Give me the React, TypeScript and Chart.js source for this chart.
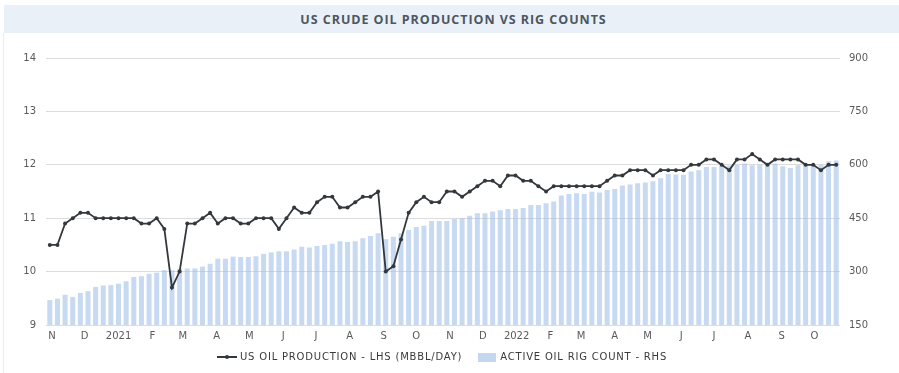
import React, { useEffect, useRef } from "react";
import { Chart, registerables } from "chart.js";

Chart.register(...registerables);

// ---- Data ----
const TITLE = "US CRUDE OIL PRODUCTION VS RIG COUNTS";
const LINE_LABEL = "US OIL PRODUCTION - LHS (MBBL/DAY)";
const BAR_LABEL = "ACTIVE OIL RIG COUNT - RHS";

// weekly observations, first week ending 2020-10-30
const FIRST_WEEK = "2020-10-30";

const production = [
  10.5, 10.5, 10.9, 11.0, 11.1, 11.1, 11.0, 11.0, 11.0, 11.0,
  11.0, 11.0, 10.9, 10.9, 11.0, 10.8, 9.7, 10.0, 10.9, 10.9,
  11.0, 11.1, 10.9, 11.0, 11.0, 10.9, 10.9, 11.0, 11.0, 11.0,
  10.8, 11.0, 11.2, 11.1, 11.1, 11.3, 11.4, 11.4, 11.2, 11.2,
  11.3, 11.4, 11.4, 11.5, 10.0, 10.1, 10.6, 11.1, 11.3, 11.4,
  11.3, 11.3, 11.5, 11.5, 11.4, 11.5, 11.6, 11.7, 11.7, 11.6,
  11.8, 11.8, 11.7, 11.7, 11.6, 11.5, 11.6, 11.6, 11.6, 11.6,
  11.6, 11.6, 11.6, 11.7, 11.8, 11.8, 11.9, 11.9, 11.9, 11.8,
  11.9, 11.9, 11.9, 11.9, 12.0, 12.0, 12.1, 12.1, 12.0, 11.9,
  12.1, 12.1, 12.2, 12.1, 12.0, 12.1, 12.1, 12.1, 12.1, 12.0,
  12.0, 11.9, 12.0, 12.0,
];

const rigCount = [
  220, 224, 235, 229, 240, 245, 257, 261, 262, 266,
  273, 285, 287, 294, 297, 304, 304, 308, 309, 309,
  314, 322, 336, 336, 342, 341, 341, 343, 350, 354,
  357, 357, 362, 370, 368, 372, 375, 378, 385, 383,
  385, 394, 400, 408, 391, 398, 408, 417, 425, 429,
  442, 442, 442, 448, 450, 457, 464, 464, 469, 472,
  476, 476, 479, 487, 487, 492, 497, 514, 518, 520,
  518, 524, 522, 529, 532, 542, 545, 548, 550, 554,
  562, 574, 573, 572, 581, 585, 594, 594, 597, 598,
  600, 604, 599, 600, 600, 604, 596, 591, 599, 602,
  601, 600, 610, 612,
];

const monthTickDates = [
  "2020-11-01", "2020-12-01", "2021-01-01", "2021-02-01", "2021-03-01", "2021-04-01",
  "2021-05-01", "2021-06-01", "2021-07-01", "2021-08-01", "2021-09-01", "2021-10-01",
  "2021-11-01", "2021-12-01", "2022-01-01", "2022-02-01", "2022-03-01", "2022-04-01",
  "2022-05-01", "2022-06-01", "2022-07-01", "2022-08-01", "2022-09-01", "2022-10-01",
];
const monthTickLabels = [
  "N", "D", "2021", "F", "M", "A", "M", "J", "J", "A", "S", "O",
  "N", "D", "2022", "F", "M", "A", "M", "J", "J", "A", "S", "O",
];

const leftMin = 9;
const leftMax = 14;
const leftStep = 1;
const rightMin = 150;
const rightMax = 900;
const rightStep = 150;

// ---- Styles ----
const LINE_COLOR = "#33383d";
const BAR_COLOR = "rgba(160, 190, 232, 0.58)";
const BAR_SWATCH = "#c5d6ef";
const TICK_COLOR = "#5a5a5a";
const FONT = "'DejaVu Sans', Verdana, sans-serif";

const DAY = 86400000;
const dayOffset = (d: string) => (Date.parse(d) - Date.parse(FIRST_WEEK)) / DAY;

export default function App() {
  const canvasRef = useRef<HTMLCanvasElement | null>(null);

  useEffect(() => {
    const canvas = canvasRef.current;
    if (!canvas) return;
    const lastDay = (production.length - 1) * 7;
    const chart = new Chart(canvas, {
      type: "bar",
      data: {
        datasets: [
          {
            type: "line",
            label: LINE_LABEL,
            data: production.map((v, i) => ({ x: i * 7, y: v })),
            yAxisID: "y",
            borderColor: LINE_COLOR,
            backgroundColor: LINE_COLOR,
            borderWidth: 1.8,
            pointRadius: 2,
            pointBackgroundColor: LINE_COLOR,
            pointBorderWidth: 0,
            tension: 0,
            order: 0,
          } as any,
          {
            type: "bar",
            label: BAR_LABEL,
            data: rigCount.map((v, i) => ({ x: i * 7, y: v })),
            yAxisID: "y1",
            backgroundColor: BAR_COLOR,
            borderWidth: 0,
            barPercentage: 0.82,
            categoryPercentage: 0.8,
            order: 1,
          } as any,
        ],
      },
      options: {
        responsive: false,
        animation: false,
        layout: { padding: { left: 0, right: 0, top: 58, bottom: 28 } },
        plugins: {
          legend: { display: false },
          title: { display: false },
          tooltip: { enabled: false },
        },
        scales: {
          x: {
            type: "linear",
            offset: false,
            min: -3.5,
            max: lastDay + 3.5,
            grid: { display: false, drawTicks: false, offset: false },
            border: { display: false },
            afterBuildTicks: (scale: any) => {
              scale.ticks = monthTickDates.map((d) => ({ value: dayOffset(d) }));
            },
            afterFit: (scale: any) => {
              scale.height = 20;
            },
            ticks: {
              autoSkip: false,
              maxRotation: 0,
              padding: 5,
              color: TICK_COLOR,
              font: { family: FONT, size: 10 },
              callback: (_v: any, i: number) => monthTickLabels[i],
            },
          },
          y: {
            type: "linear",
            position: "left",
            min: leftMin,
            max: leftMax,
            afterFit: (scale: any) => {
              scale.width = 46;
            },
            grid: { color: "#dcdcdc", lineWidth: 1, drawTicks: false },
            border: { display: false },
            ticks: {
              stepSize: leftStep,
              padding: 10,
              color: TICK_COLOR,
              font: { family: FONT, size: 10 },
            },
          },
          y1: {
            type: "linear",
            position: "right",
            min: rightMin,
            max: rightMax,
            afterFit: (scale: any) => {
              scale.width = 59;
            },
            grid: { display: false, drawTicks: false },
            border: { display: false },
            ticks: {
              stepSize: rightStep,
              padding: 9,
              color: TICK_COLOR,
              font: { family: FONT, size: 10 },
            },
          },
        },
      } as any,
    });
    return () => chart.destroy();
  }, []);

  const legendText: React.CSSProperties = {
    fontFamily: FONT,
    fontSize: 10,
    letterSpacing: "0.8px",
    color: "#3a3a3a",
    whiteSpace: "nowrap",
    lineHeight: "12px",
  };

  return (
    <div
      style={{
        position: "absolute",
        left: 0,
        top: 0,
        width: 899,
        height: 373,
        background: "#ffffff",
        overflow: "hidden",
      }}
    >
      <div
        style={{
          position: "absolute",
          left: 3,
          top: 33,
          width: 1,
          height: 340,
          background: "#ececec",
        }}
      />
      <div
        style={{
          position: "absolute",
          left: 4,
          top: 5,
          width: 895,
          height: 28,
          background: "#e9f0f8",
          display: "flex",
          alignItems: "center",
          justifyContent: "center",
        }}
      >
        <span
          style={{
            fontFamily: "'Open Sans', sans-serif",
            fontWeight: 700,
            fontSize: 12.5,
            letterSpacing: "0.95px",
            color: "#4e5660",
            marginLeft: 4,
          }}
        >
          {TITLE}
        </span>
      </div>
      <canvas
        ref={canvasRef}
        width={899}
        height={373}
        style={{ position: "absolute", left: 0, top: 0, width: 899, height: 373 }}
      />
      <div
        style={{
          position: "absolute",
          left: 217,
          top: 351,
          display: "flex",
          alignItems: "center",
        }}
      >
        <div style={{ position: "relative", width: 20, height: 12, marginRight: 3 }}>
          <div
            style={{
              position: "absolute",
              left: 0,
              top: 5,
              width: 20,
              height: 2,
              background: LINE_COLOR,
            }}
          />
          <div
            style={{
              position: "absolute",
              left: 8,
              top: 4,
              width: 4,
              height: 4,
              borderRadius: 2,
              background: LINE_COLOR,
            }}
          />
        </div>
        <span style={legendText}>{LINE_LABEL}</span>
        <div
          style={{
            width: 18,
            height: 9,
            background: BAR_SWATCH,
            marginLeft: 16,
            marginRight: 4,
          }}
        />
        <span style={legendText}>{BAR_LABEL}</span>
      </div>
    </div>
  );
}
